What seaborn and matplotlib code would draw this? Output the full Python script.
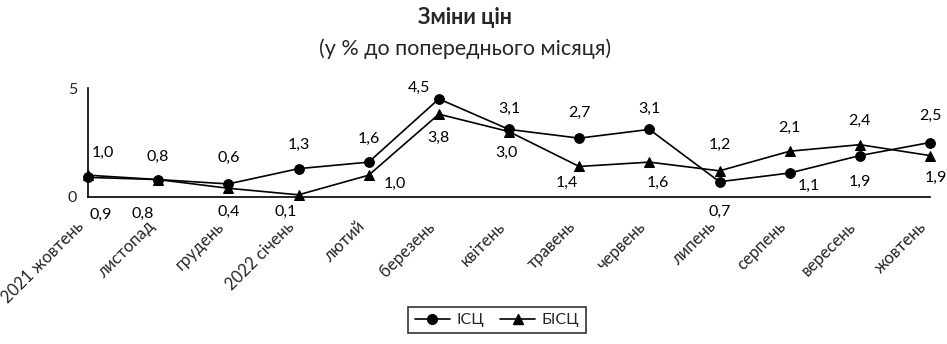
import numpy as np
import pandas as pd
import matplotlib
matplotlib.use("Agg")
import matplotlib.pyplot as plt
import matplotlib.transforms as mtransforms
from matplotlib.lines import Line2D
import seaborn as sns

months = ["2021 жовтень", "листопад", "грудень", "2022 січень", "лютий", "березень",
          "квітень", "травень", "червень", "липень", "серпень", "вересень", "жовтень"]
cpi = [0.9, 0.8, 0.6, 1.3, 1.6, 4.5, 3.1, 2.7, 3.1, 0.7, 1.1, 1.9, 2.5]
core_cpi = [1.0, 0.8, 0.4, 0.1, 1.0, 3.8, 3.0, 1.4, 1.6, 1.2, 2.1, 2.4, 1.9]
series_names = ["ІСЦ", "БІСЦ"]

# label offsets (points) for each value label
cpi_offsets = [(9, -27), (-11, -25), (0, 19), (0, 17), (0, 17), (-14, 8), (0, 15),
               (0, 18), (0, 15), (0, -22), (14, -9), (0, -19), (0, 19)]
core_offsets = [(11, 16), (0, 16), (0, -17), (-9, -12), (19, -6), (0, -17), (-2, -15),
                (-9, -12), (6, -15), (0, 19), (0, 17), (0, 17), (4, -16)]

sns.set_theme(style="white")
plt.rcParams["font.family"] = ["Lato", "DejaVu Sans"]

fig = plt.figure(figsize=(9.47, 3.44), dpi=100)
ax = fig.add_axes([88 / 947, 1 - 197 / 344, (930 - 88) / 947, 109 / 344])

x = np.arange(len(months))
df = pd.DataFrame({"x": np.concatenate([x, x]),
                   "v": cpi + core_cpi,
                   "s": [series_names[0]] * len(x) + [series_names[1]] * len(x)})

sns.lineplot(data=df, x="x", y="v", style="s", markers={"ІСЦ": "o", "БІСЦ": "^"},
             dashes=False, color="black", linewidth=1.2, markersize=7,
             markeredgecolor="black", ax=ax, clip_on=False, legend=False)

for i in range(len(x)):
    ax.annotate(f"{cpi[i]:.1f}".replace(".", ","), (x[i], cpi[i]),
                xytext=cpi_offsets[i], textcoords="offset points",
                ha="center", va="center", fontsize=11.5, color="black")
    ax.annotate(f"{core_cpi[i]:.1f}".replace(".", ","), (x[i], core_cpi[i]),
                xytext=core_offsets[i], textcoords="offset points",
                ha="center", va="center", fontsize=11.5, color="black")

ax.set_xlim(0, 12)
ax.set_ylim(0, 5)
ax.set_yticks([0, 5])
ax.set_yticklabels(["0", "5"], fontsize=11.5)
ax.set_xticks(x)
ax.tick_params(axis="x", direction="out", length=5, width=1.2, color="black", pad=14)
ax.tick_params(axis="y", direction="out", length=5, width=1.2, color="black", pad=3)
ax.set_xticklabels(months, rotation=45, ha="right", va="top", rotation_mode="anchor",
                   fontsize=12)
# nudge the slanted month labels left and slightly up
shift = mtransforms.ScaledTranslation(-12 / 100, 5 / 100, fig.dpi_scale_trans)
for lbl in ax.get_xticklabels():
    lbl.set_transform(lbl.get_transform() + shift)
ax.set_xlabel("")
ax.set_ylabel("")
for side in ["top", "right"]:
    ax.spines[side].set_visible(False)
for side in ["left", "bottom"]:
    ax.spines[side].set_color("black")
    ax.spines[side].set_linewidth(1.2)
ax.grid(False)

handles = [Line2D([], [], color="black", marker="o", markersize=7, linewidth=1.2),
           Line2D([], [], color="black", marker="^", markersize=7, linewidth=1.2)]
leg = fig.legend(handles, series_names, loc="center", bbox_to_anchor=(497 / 947, 1 - 320 / 344),
                 ncol=2, frameon=True, fancybox=False, shadow=False, fontsize=11.5,
                 handlelength=2.2, columnspacing=1.0, handletextpad=0.4,
                 borderpad=0.4, edgecolor="black")
leg.get_frame().set_linewidth(1.2)

fig.text(465 / 947, 1 - 17 / 344, "Зміни цін", ha="center", va="center",
         fontsize=15.5, fontweight="bold")
fig.text(465 / 947, 1 - 49 / 344, "(у % до попереднього місяця)", ha="center", va="center",
         fontsize=15.5)

fig.savefig("out.png", dpi=100)
